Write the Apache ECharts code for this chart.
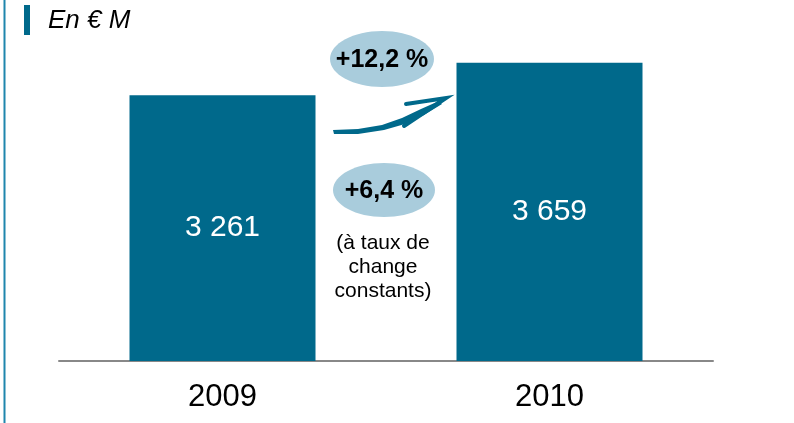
<!DOCTYPE html>
<html><head><meta charset="utf-8">
<script src="https://cdn.jsdelivr.net/npm/echarts@6/dist/echarts.min.js"></script>
<style>html,body{margin:0;padding:0;background:#fff}#c{width:794px;height:423px}</style>
</head><body><div id="c"></div>
<script>
const categories = ['2009', '2010'];
const values = [3261, 3659];
const valueLabels = ['3 261', '3 659'];
const unitLabel = 'En € M';
const growthLabel = '+12,2 %';
const constantGrowthLabel = '+6,4 %';
const noteLines = ['(à taux de', 'change', 'constants)'];

const BAR = '#00698b';
const ELL = '#a9ccdc';
const FONT = 'Liberation Sans, Arial, sans-serif';

const chart = echarts.init(document.getElementById('c'), null, {renderer: 'canvas'});
chart.setOption({
  animation: false,
  backgroundColor: '#fff',
  grid: {left: 59, right: 81, top: 35, bottom: 62},
  xAxis: {
    type: 'category', data: categories,
    axisLine: {lineStyle: {color: '#888', width: 2}},
    axisTick: {show: false},
    axisLabel: {color: '#000', fontSize: 31, fontFamily: FONT, margin: 21, lineHeight: 31}
  },
  yAxis: {type: 'value', min: 0, max: 4000, show: false, splitLine: {show: false}},
  series: [{
    type: 'bar', data: values, barWidth: 186,
    itemStyle: {color: BAR},
    label: {show: true, position: 'inside', color: '#fff', fontSize: 30, fontFamily: FONT,
      formatter: p => valueLabels[p.dataIndex]}
  }],
  graphic: [
    {type: 'rect', shape: {x: 3.5, y: 0, width: 2, height: 423}, style: {fill: '#1f86ad'}},
    {type: 'rect', shape: {x: 24, y: 5, width: 6, height: 30}, style: {fill: BAR}},
    {type: 'text', x: 48, y: 21, style: {text: unitLabel, font: 'italic 26px ' + FONT, fill: '#000', textVerticalAlign: 'middle'}},
    {type: 'ellipse', shape: {cx: 382, cy: 59, rx: 52, ry: 28}, style: {fill: ELL}},
    {type: 'text', x: 382, y: 60, style: {text: growthLabel, font: 'bold 25px ' + FONT, fill: '#000', textAlign: 'center', textVerticalAlign: 'middle'}},
    {type: 'ellipse', shape: {cx: 384, cy: 190, rx: 51, ry: 27}, style: {fill: ELL}},
    {type: 'text', x: 384, y: 191, style: {text: constantGrowthLabel, font: 'bold 25px ' + FONT, fill: '#000', textAlign: 'center', textVerticalAlign: 'middle'}},
    {type: 'text', x: 383, y: 267, style: {text: noteLines.join('\n'), font: '21px ' + FONT, lineHeight: 24, fill: '#000', textAlign: 'center', textVerticalAlign: 'middle'}},
    {type: 'polygon', shape: {points: [[333,130],[358,129],[382,125],[402,118],[421,109],[439,101],[442,104],[424,115],[405,124],[384,130],[358,134],[334,134]]}, style: {fill: BAR}},
    {type: 'polyline', shape: {points: [[406,104],[446,98],[404,126]]}, style: {stroke: BAR, lineWidth: 4, fill: null, lineCap: 'round', lineJoin: 'miter'}}
  ]
});
</script></body></html>
